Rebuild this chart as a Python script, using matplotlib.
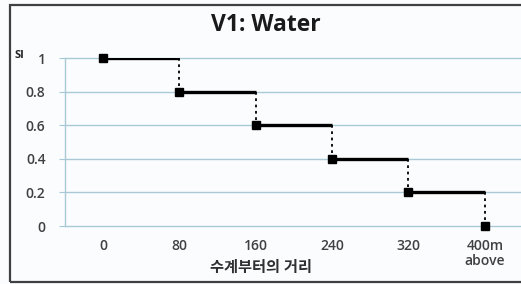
import matplotlib.pyplot as plt
from matplotlib.patches import Rectangle

plt.rcParams['font.family'] = ['Open Sans', 'Noto Sans CJK KR', 'DejaVu Sans']

# data
categories = ['0', '80', '160', '240', '320', '400m\nabove']
si_values = [1, 0.8, 0.6, 0.4, 0.2, 0]
y_ticks = [0, 0.2, 0.4, 0.6, 0.8, 1]
y_labels = ['0', '0.2', '0.4', '0.6', '0.8', '1']

W, H = 521, 284
fig = plt.figure(figsize=(W / 100, H / 100), dpi=100)
fig.patch.set_facecolor('#fbfcfe')

# outer frame (right side cut off in the original)
fig.add_artist(Rectangle((10 / W, 1 - 282 / H), 1.2, (282 - 5) / H,
                         transform=fig.transFigure, fill=False,
                         edgecolor='#404040', linewidth=1.6))

ax = fig.add_axes([65 / W, 1 - 226 / H, (523 - 65) / W, (226 - 58) / H])
ax.set_facecolor('none')
ax.set_xlim(-0.5, 5.5)
ax.set_ylim(0, 1)

grid_color = '#a9c9d6'
for y in y_ticks:
    ax.axhline(y, color=grid_color, linewidth=1.0, clip_on=False, zorder=1)

for side in ['top', 'right', 'bottom']:
    ax.spines[side].set_visible(False)
ax.spines['left'].set_color(grid_color)
ax.spines['left'].set_linewidth(1.0)

x = list(range(len(categories)))

# horizontal steps and dotted drops
for i in range(len(x) - 1):
    ax.plot([x[i], x[i + 1]], [si_values[i], si_values[i]],
            color='black', linewidth=2.4, solid_capstyle='butt', zorder=3)
    ax.plot([x[i + 1], x[i + 1]], [si_values[i], si_values[i + 1]],
            color='black', linewidth=1.3, linestyle=(0, (1.5, 2)), zorder=2)
ax.plot(x, si_values, linestyle='none', marker='s', markersize=6,
        color='black', zorder=4, clip_on=False)

ax.set_xticks(x)
ax.set_xticklabels(categories, fontsize=10, color='#404040',
                   linespacing=1.15, fontweight='semibold')
ax.set_yticks(y_ticks)
ax.set_yticklabels(y_labels, fontsize=10, color='#404040',
                   fontweight='semibold')
ax.tick_params(axis='x', length=0, pad=9)
ax.tick_params(axis='y', length=4, color=grid_color, pad=10)
for lbl in ax.get_xticklabels():
    lbl.set_verticalalignment('top')

fig.text(266 / W, 1 - 25 / H, 'V1: Water', ha='center', va='center',
         fontsize=16.5, fontweight='bold', color='#1a1a1a')
fig.text(19 / W, 1 - 56 / H, 'SI', ha='center', va='center',
         fontsize=8, fontweight='bold', color='#222222')
fig.text(261 / W, 1 - 268 / H, '수계부터의 거리', ha='center', va='center',
         fontsize=11, fontweight='bold', color='#303030')

fig.savefig('out.png', dpi=100, facecolor=fig.get_facecolor())
